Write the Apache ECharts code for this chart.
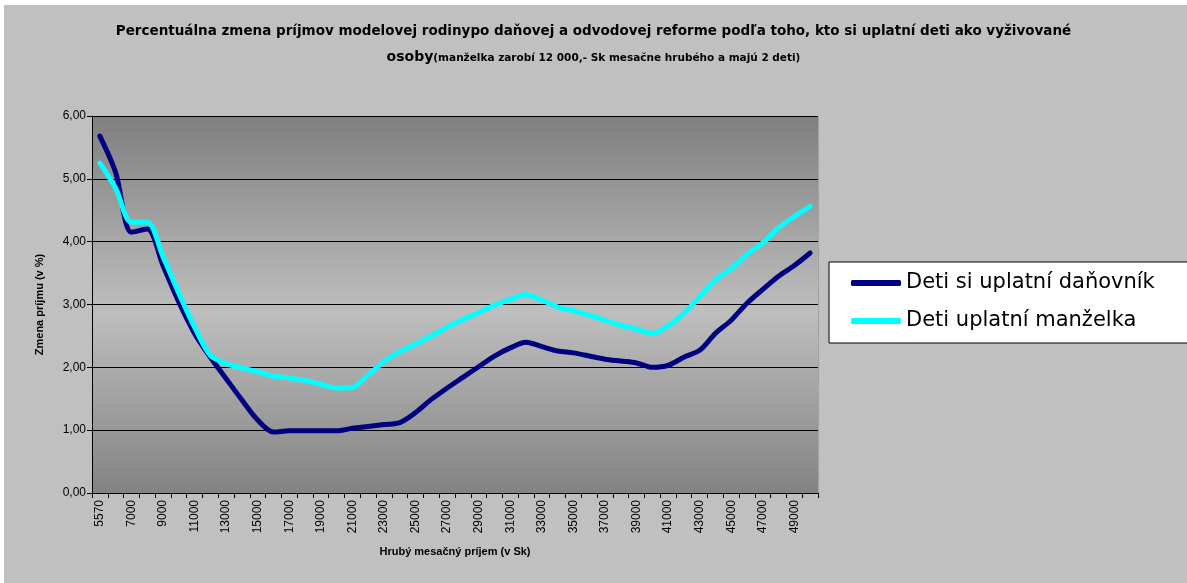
<!DOCTYPE html>
<html>
<head>
<meta charset="utf-8">
<script src="https://cdn.jsdelivr.net/npm/echarts@6/dist/echarts.min.js"></script>
<style>
html,body{margin:0;padding:0;background:#fff;}
#chart{width:1187px;height:583px;}
</style>
</head>
<body>
<div id="chart"></div>
<script>
const categories = ['5570','6000','7000','8000','9000','10000','11000','12000','13000','14000','15000','16000','17000','18000','19000','20000','21000','22000','23000','24000','25000','26000','27000','28000','29000','30000','31000','32000','33000','34000','35000','36000','37000','38000','39000','40000','41000','42000','43000','44000','45000','46000','47000','48000','49000','50000'];
const danovnik = [5.68,5.10,4.15,4.20,3.62,3.04,2.54,2.16,1.82,1.48,1.16,0.97,0.99,0.99,0.99,0.99,1.03,1.06,1.09,1.12,1.28,1.49,1.67,1.84,2.01,2.18,2.31,2.40,2.33,2.26,2.23,2.18,2.13,2.10,2.07,2.00,2.03,2.16,2.27,2.54,2.75,3.02,3.24,3.45,3.62,3.82];
const manzelka = [5.25,4.85,4.31,4.31,3.76,3.18,2.64,2.19,2.06,1.99,1.93,1.86,1.83,1.79,1.73,1.67,1.68,1.88,2.09,2.25,2.37,2.50,2.64,2.76,2.87,2.99,3.08,3.16,3.07,2.96,2.90,2.83,2.75,2.67,2.61,2.54,2.66,2.86,3.12,3.39,3.57,3.80,3.98,4.22,4.40,4.56];
const seriesNames = ['Deti si uplatní daňovník','Deti uplatní manželka'];

const chart = echarts.init(document.getElementById('chart'));
const F = 'Arial, "Liberation Sans", sans-serif';
const FD = '"DejaVu Sans", Arial, sans-serif';
chart.setOption({
  backgroundColor: '#ffffff',
  animation: false,
  graphic: [{
    type: 'rect', z: -10, silent: true,
    shape: {x: 4, y: 5, width: 1200, height: 600},
    style: {fill: '#c0c0c0'}
  }, {
    type: 'line', z: 5, silent: true,
    shape: {x1: 818.5, y1: 116, x2: 818.5, y2: 493},
    style: {stroke: '#a0a0a0', lineWidth: 1}
  }],
  title: {
    left: 'center', top: 13,
    text: '{a|Percentuálna zmena príjmov modelovej rodinypo daňovej a odvodovej reforme podľa toho, kto si uplatní deti ako vyživované}\n{c|osoby}{b|(manželka zarobí 12 000,- Sk mesačne hrubého a majú 2 deti)}',
    textStyle: {
      fontFamily: FD,
      rich: {
        a: {fontSize: 13.5, fontWeight: 'bold', color: '#000', fontFamily: FD, lineHeight: 26},
        c: {fontSize: 14, fontWeight: 'bold', color: '#000', fontFamily: FD, lineHeight: 26},
        b: {fontSize: 10.5, fontWeight: 'bold', color: '#000', fontFamily: FD, lineHeight: 26, padding: [3,0,0,0]}
      }
    }
  },
  legend: {
    orient: 'vertical',
    left: 829, top: 262,
    backgroundColor: '#ffffff',
    borderColor: '#000', borderWidth: 1,
    padding: [10, 50, 11, 22],
    itemWidth: 50, itemHeight: 6, itemGap: 16,
    icon: 'roundRect',
    textStyle: {fontSize: 21, fontFamily: FD, color: '#000', lineHeight: 22},
    data: seriesNames
  },
  grid: {
    left: 92, right: 369, top: 116, bottom: 90,
    show: true,
    borderWidth: 0,
    backgroundColor: new echarts.graphic.LinearGradient(0, 0, 0, 1, [
      {offset: 0, color: '#7f7f7f'},
      {offset: 0.52, color: '#bebebe'},
      {offset: 1, color: '#838383'}
    ])
  },
  xAxis: {
    type: 'category',
    data: categories,
    boundaryGap: true,
    name: 'Hrubý mesačný príjem (v Sk)',
    nameLocation: 'middle',
    nameGap: 53,
    nameTextStyle: {fontSize: 11, fontWeight: 'bold', fontFamily: F, color: '#000'},
    axisLine: {lineStyle: {color: '#000', width: 1}},
    axisTick: {show: true, interval: 0, length: 5, lineStyle: {color: '#000'}},
    axisLabel: {interval: 1, rotate: 90, fontSize: 12, fontFamily: F, color: '#000', margin: 7},
    splitLine: {show: false}
  },
  yAxis: {
    type: 'value',
    min: 0, max: 6, interval: 1,
    name: 'Zmena príjmu (v %)',
    nameLocation: 'middle',
    nameGap: 47,
    nameTextStyle: {fontSize: 11, fontWeight: 'bold', fontFamily: F, color: '#000'},
    axisLine: {show: true, lineStyle: {color: '#000', width: 1}},
    axisTick: {show: true, length: 5, lineStyle: {color: '#000'}},
    axisLabel: {fontSize: 12, fontFamily: F, color: '#000', margin: 6,
      formatter: v => v.toFixed(2).replace('.', ',')},
    splitLine: {show: true, lineStyle: {color: '#000', width: 1}}
  },
  series: [
    {name: seriesNames[0], type: 'line', data: danovnik, smooth: 0.3, symbol: 'none',
     lineStyle: {color: '#000080', width: 5, cap: 'round'}, itemStyle: {color: '#000080'}},
    {name: seriesNames[1], type: 'line', data: manzelka, smooth: 0.3, symbol: 'none',
     lineStyle: {color: '#00ffff', width: 5, cap: 'round'}, itemStyle: {color: '#00ffff'}}
  ]
});
</script>
</body>
</html>
